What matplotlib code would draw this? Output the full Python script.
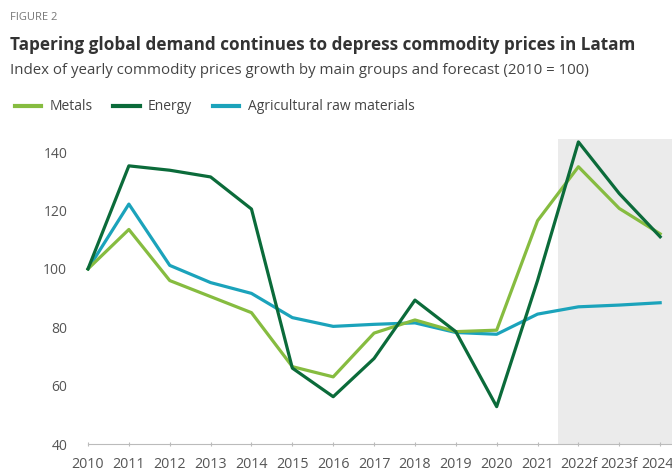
import matplotlib
matplotlib.use("Agg")
import matplotlib.pyplot as plt
from matplotlib.lines import Line2D

plt.rcParams['font.family'] = ['Open Sans', 'DejaVu Sans']

years = ['2010', '2011', '2012', '2013', '2014', '2015', '2016', '2017',
         '2018', '2019', '2020', '2021', '2022f', '2023f', '2024f']
metals = [100, 113.5, 96, 90.5, 85, 66.5, 63, 78, 82.5, 78.5, 79, 116.5, 135, 120.7, 112]
energy = [100, 135.3, 133.8, 131.5, 120.5, 66, 56.2, 69.3, 89.3, 78.5, 52.8, 96, 143.5, 125.8, 111]
agri = [100, 122.2, 101.2, 95.3, 91.6, 83.3, 80.3, 81, 81.5, 78.2, 77.6, 84.5, 87, 87.6, 88.4]
yticks = [40, 60, 80, 100, 120, 140]

c_metals = '#86bc40'
c_energy = '#0b6b3a'
c_agri = '#1ba3bb'

fig = plt.figure(figsize=(6.72, 4.71), dpi=100)
ax = fig.add_axes([88 / 672, 27 / 471, 584 / 672, 305 / 471])

x = list(range(len(years)))
ax.axvspan(11.5, 20, color='#ebebeb', lw=0, zorder=0)
ax.plot(x, metals, color=c_metals, lw=2.3, zorder=3, clip_on=False)
ax.plot(x, energy, color=c_energy, lw=2.3, zorder=4, clip_on=False)
ax.plot(x, agri, color=c_agri, lw=2.3, zorder=2, clip_on=False)

ax.set_xlim(0, 14.29)
ax.set_ylim(40, 144.5)
ax.set_xticks(x)
ax.set_xticklabels(years, fontsize=10.3, color='#555555')
ax.set_yticks(yticks)
ax.set_yticklabels([str(v) for v in yticks], fontsize=10, color='#555555')
for s in ['top', 'right', 'left']:
    ax.spines[s].set_visible(False)
ax.spines['bottom'].set_color('#bbbbbb')
ax.tick_params(axis='x', length=3, color='#bbbbbb', pad=8, direction='inout')
ax.tick_params(axis='y', length=0, pad=15)
ax.patch.set_visible(False)

fig.text(10 / 672, 1 - 17 / 471, 'FIGURE 2', fontsize=8, color='#777777', va='center')
fig.text(10 / 672, 1 - 45 / 471,
         'Tapering global demand continues to depress commodity prices in Latam',
         fontsize=12.3, fontweight='bold', color='#333333', va='center')
fig.text(10 / 672, 1 - 71 / 471,
         'Index of yearly commodity prices growth by main groups and forecast (2010 = 100)',
         fontsize=10.8, color='#444444', va='center')

handles = [Line2D([], [], color=c_metals, lw=3),
           Line2D([], [], color=c_energy, lw=3),
           Line2D([], [], color=c_agri, lw=3)]
fig.legend(handles, ['Metals', 'Energy', 'Agricultural raw materials'],
           loc='center left', bbox_to_anchor=(2 / 672, 1 - 107 / 471), ncol=3,
           frameon=False, fontsize=10, handlelength=1.9, columnspacing=1.5,
           handletextpad=0.6, labelcolor='#444444')

fig.savefig('out.png', dpi=100)
